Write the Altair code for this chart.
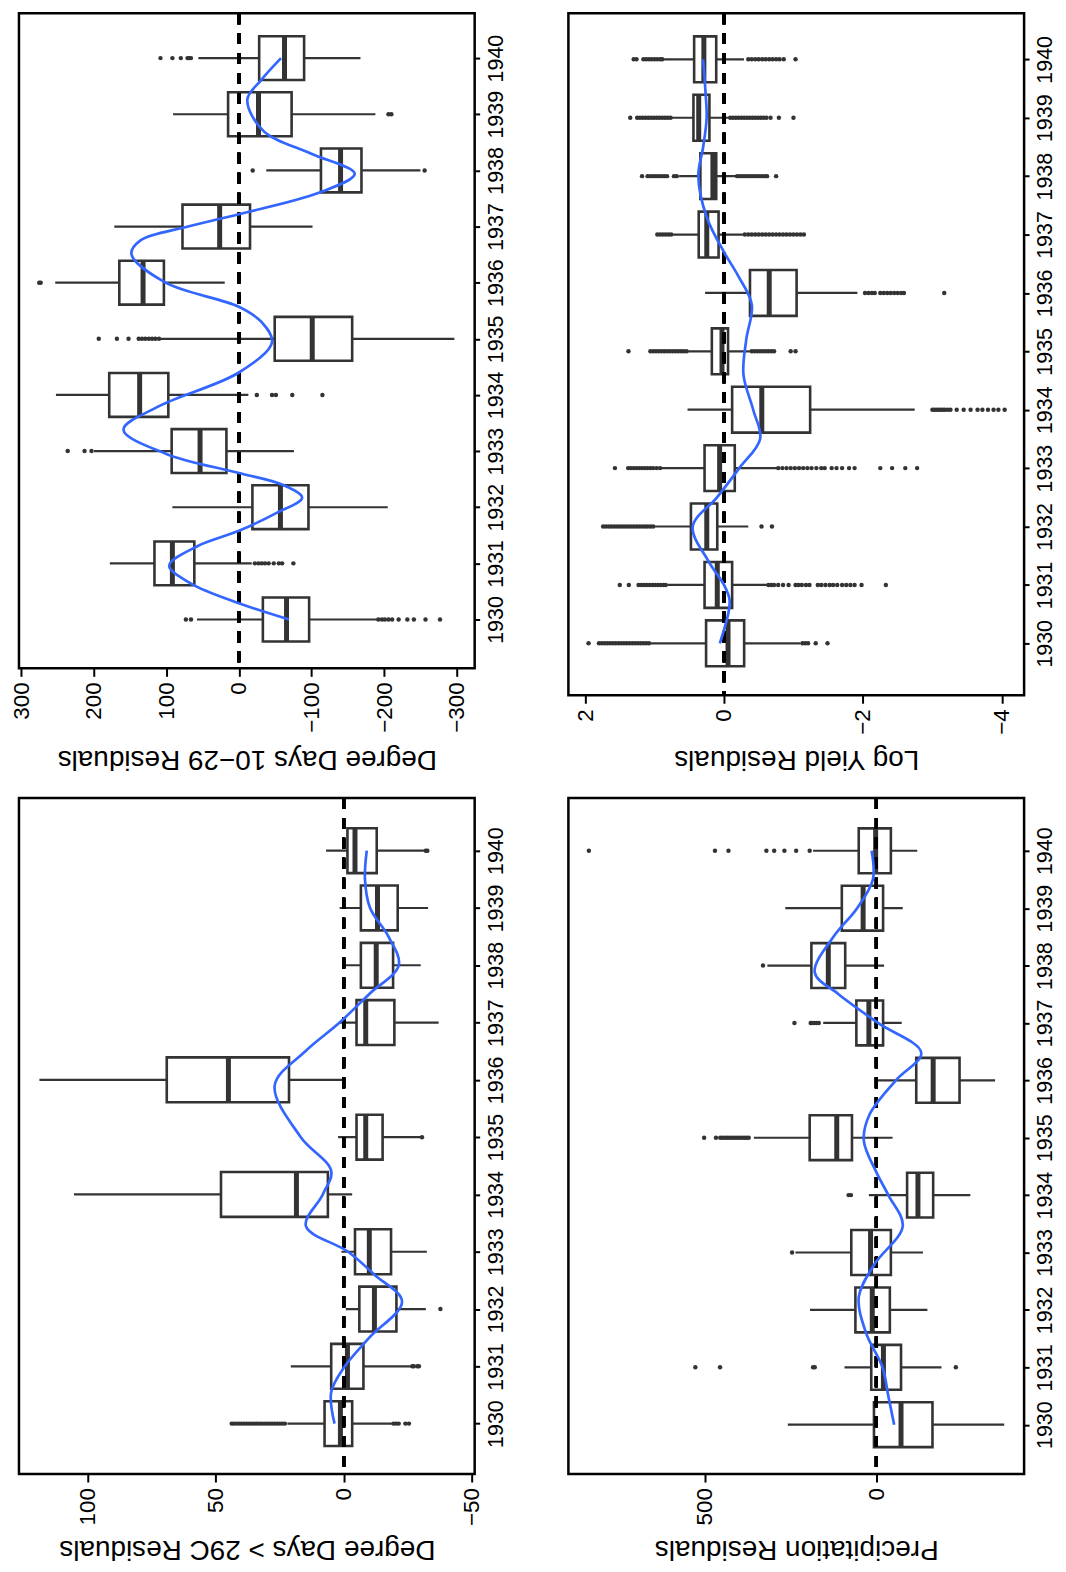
import altair as alt
import pandas as pd

YEARS = list(range(1930, 1941))
FONT = "Liberation Sans"
DARK = "#333333"
BLUE = "#3366FF"

# ---------------- Degree Days 10-29 Residuals (top left) ----------------
d1029_lo = [-96.7, 61.4, -95.8, 17.2, 97.2, -156, 103.3, -15.3, -168.8, -72.6, -89.8]
d1029_hi = [-33, 116.3, -18.6, 92.6, 178.6, -49.3, 164.7, 77.7, -113, 14.9, -27.9]
d1029_med = [-65.6, 91.6, -57.2, 53.5, 136.7, -101, 132, 26.5, -140, -27, -62.8]
d1029_wlo = [-190, -17.7, -205, -75.8, -13, -296.7, 19.5, -101.4, -250, -188, -167.4]
d1029_whi = [57.7, 177.7, 91.6, 199.5, 252, 108, 253, 171.6, -37.7, 90.7, 55.8]
d1029_out_year = ([1930] * 12 + [1931] * 9 + [1933] * 3 + [1934] * 5 + [1935] * 10
                  + [1936] * 2 + [1938] * 2 + [1939] * 2 + [1940] * 6)
d1029_out_val = ([73, 66, -192, -197, -201, -206, -211, -220, -232, -241, -257, -277]
                 + [-22, -27, -31.6, -36, -41, -48, -55, -59.5, -75]
                 + [235.8, 212.6, 203]
                 + [-24.7, -45.6, -51, -73.5, -115]
                 + [193, 168, 152, 138, 133.5, 129, 124, 119.5, 115, 110]
                 + [275, 273]
                 + [-19, -255.8]
                 + [-206, -210]
                 + [108, 91.6, 80, 70.7, 68.4, 66])
d1029_curve_year = [1930.0, 1930.29, 1930.64, 1930.96, 1931.3, 1931.58, 1931.9, 1932.17, 1932.4,
                    1932.61, 1932.95, 1933.38, 1933.8, 1934.4, 1934.94, 1935.3, 1935.57, 1936.0,
                    1936.51, 1936.75, 1937.0, 1937.22, 1937.6, 1937.94, 1938.3, 1938.7, 1939.26,
                    1939.6, 1940.0]
d1029_curve_val = [-69, 0, 66, 96, 58, 0, -52, -87, -60, 0, 100, 159, 110, 0, -45.6, -31, 0, 101,
                   148, 136, 70, 0, -110, -159.5, -99, -34, -11.6, -30, -58]

# ---------------- Log Yield Residuals (top right) ----------------
ly_lo = [-0.29, -0.117, 0.097, -0.155, -1.24, -0.058, -1.045, 0.078, 0.112, 0.21, 0.112]
ly_hi = [0.258, 0.28, 0.476, 0.28, -0.117, 0.175, -0.374, 0.364, 0.34, 0.44, 0.43]
ly_med = [-0.058, 0.097, 0.248, 0.063, -0.544, 0.029, -0.651, 0.248, 0.16, 0.364, 0.29]
ly_wlo = [-1.10, -0.617, -0.35, -0.76, -2.745, -0.374, -1.92, -0.277, -0.18, -0.08, -0.287]
ly_whi = [1.06, 0.816, 1.01, 0.91, 0.525, 0.525, 0.272, 0.74, 0.646, 0.77, 0.89]
ly_out = {
    1930: [1.95, 1.80, 1.76, 1.72, 1.68, 1.64, 1.60, 1.56, 1.52, 1.48, 1.44, 1.40, 1.36, 1.32,
           1.28, 1.24, 1.20, 1.16, 1.12, 1.08, -1.13, -1.17, -1.21, -1.32, -1.49],
    1931: [1.50, 1.37, 1.23, 1.19, 1.15, 1.11, 1.07, 1.03, 0.99, 0.95, 0.91, 0.87, 0.84,
           -0.64, -0.68, -0.72, -0.78, -0.85, -0.93, -1.03, -1.07, -1.12, -1.18, -1.23, -1.35,
           -1.40, -1.46, -1.52, -1.57, -1.63, -1.70, -1.76, -1.82, -1.88, -1.98, -2.33],
    1932: [1.74, 1.70, 1.66, 1.62, 1.58, 1.54, 1.50, 1.46, 1.42, 1.38, 1.34, 1.30, 1.26, 1.22,
           1.18, 1.14, 1.10, 1.06, 1.02, -0.54, -0.69],
    1933: [1.57, 1.38, 1.34, 1.30, 1.26, 1.22, 1.18, 1.14, 1.10, 1.06, 1.02, 0.97, 0.92,
           -0.78, -0.84, -0.90, -0.96, -1.02, -1.08, -1.14, -1.20, -1.26, -1.33, -1.40, -1.45,
           -1.55, -1.62, -1.70, -1.80, -1.88, -2.25, -2.42, -2.61, -2.78],
    1934: [-3.00, -3.03, -3.06, -3.09, -3.12, -3.15, -3.18, -3.22, -3.26, -3.35, -3.45, -3.55,
           -3.65, -3.72, -3.80, -3.88, -3.95, -4.04],
    1935: [1.375, 1.06, 1.02, 0.98, 0.94, 0.90, 0.86, 0.82, 0.78, 0.74, 0.70, 0.66, 0.62, 0.58,
           0.54, -0.40, -0.44, -0.48, -0.52, -0.56, -0.60, -0.64, -0.68, -0.72, -0.96, -1.03],
    1936: [-2.03, -2.08, -2.13, -2.17, -2.25, -2.30, -2.35, -2.40, -2.45, -2.50, -2.55, -2.59,
           -3.17],
    1937: [0.96, 0.92, 0.88, 0.84, 0.80, 0.76, -0.30, -0.35, -0.40, -0.45, -0.50, -0.55, -0.60,
           -0.65, -0.70, -0.75, -0.80, -0.85, -0.90, -0.95, -1.00, -1.05, -1.10, -1.15],
    1938: [1.18, 1.10, 1.06, 1.02, 0.98, 0.94, 0.90, 0.86, 0.82, 0.72, 0.68, -0.19, -0.23,
           -0.27, -0.31, -0.35, -0.39, -0.43, -0.47, -0.51, -0.55, -0.59, -0.62, -0.75],
    1939: [1.35, 1.25, 1.21, 1.17, 1.13, 1.09, 1.05, 1.01, 0.97, 0.93, 0.89, 0.85, 0.81, 0.77,
           -0.09, -0.13, -0.17, -0.21, -0.25, -0.29, -0.33, -0.37, -0.41, -0.45, -0.49, -0.53,
           -0.57, -0.61, -0.67, -0.79, -1.00],
    1940: [1.30, 1.26, 1.16, 1.12, 1.08, 1.04, 1.00, 0.96, 0.92, 0.89, -0.35, -0.40, -0.45,
           -0.50, -0.55, -0.60, -0.65, -0.70, -0.75, -0.80, -0.86, -1.03],
}
ly_curve_year = [1930.0, 1930.5, 1930.75, 1931.0, 1931.4, 1932.0, 1932.5, 1933.0, 1933.5,
                 1934.0, 1934.6, 1935.2, 1935.8, 1936.3, 1936.7, 1937.3, 1938.0, 1938.5,
                 1939.0, 1939.5, 1940.0]
ly_curve_val = [0.06, -0.06, -0.08, 0.0, 0.22, 0.45, 0.10, -0.22, -0.52, -0.42, -0.28, -0.32,
                -0.40, -0.20, 0.0, 0.25, 0.37, 0.30, 0.25, 0.27, 0.30]

# ---------------- Degree Days > 29C Residuals (bottom left) ----------------
d29_lo = [-3.3, -7.7, -20.6, -18.5, 6.2, -15.2, 21.4, -19.8, -19.3, -21.1, -12.9]
d29_hi = [7.5, 4.9, -6.1, -4.4, 48, -5, 69.2, -5, -6.7, -6.7, -1.45]
d29_med = [1.3, -1.45, -12, -10, 18.5, -8.6, 45.1, -8.6, -12.7, -13.2, -4.4]
d29_wlo = [-18.9, -26.2, -32.1, -32.5, -3.3, -30.1, 0, -37.1, -30.1, -33, -31.4]
d29_whi = [22, 20.7, -0.8, 0.9, 105.5, 2.2, 119, 1.6, 0, 1.6, 6.9]
d29_out = {
    1930: [43.8, 43.0, 42.0, 41.0, 40.0, 39.0, 38.0, 37.0, 36.0, 35.0, 34.0, 33.0, 32.0, 31.0,
           30.0, 29.0, 28.0, 27.0, 26.0, 25.0, 24.0, 23.0, -19.5, -20.5, -21.5, -24.1, -25.5],
    1931: [-26.8, -27.4, -28.8, -29.4],
    1932: [-37.8],
    1935: [-30.6],
    1940: [-32.1, -32.7],
}
d29_curve_year = [1930.0, 1930.55, 1931.0, 1931.5, 1932.13, 1932.6, 1933.0, 1933.45, 1934.0,
                  1934.41, 1935.0, 1935.9, 1936.5, 1937.0, 1937.5, 1938.0, 1938.5, 1939.0,
                  1939.5, 1940.0]
d29_curve_val = [3.6, 4.9, -0.4, -10, -22.8, -12, -1.7, 14.8, 8.2, 4.9, 16.8, 27, 15, 1.6, -10,
                 -21.5, -17.5, -10.3, -8.3, -9.0]

# ---------------- Precipitation Residuals (bottom right) ----------------
pr_lo = [-163.7, -72, -39.4, -42.4, -165.7, 71, -242.6, -19.7, 90.7, -19.7, -42.4]
pr_hi = [6.9, 14.8, 61, 73, -89.7, 194.3, -116.4, 58.2, 189.3, 100.6, 51.3]
pr_med = [-72, -20.7, 11.8, 16.8, -121.3, 115.4, -165.7, 21.7, 140, 38.5, 2]
pr_wlo = [-372.8, -190, -148.9, -136, -274, -47.3, -346.2, -74, -22.7, -77, -119.3]
pr_whi = [258, 92.7, 193.3, 235.7, 21.7, 357, 3.9, 154.8, 317.6, 265.3, 184.4]
pr_out = {
    1931: [527.6, 455.6, 184.4, 179.5, -231.8],
    1933: [245.6],
    1934: [80.9, 74],
    1935: [502, 467.5, 455, 448, 441, 434, 427, 420, 413, 406, 399, 392, 385, 378, 372],
    1937: [238.7, 191.3, 187.4, 181.5, 174.6, 167.7],
    1938: [330.4],
    1940: [838, 470.4, 431, 320.5, 297.8, 268, 233.7, 194.3],
}
pr_curve_year = [1930.0, 1930.5, 1931.0, 1931.6, 1932.23, 1932.8, 1933.46, 1934.0, 1934.4,
                 1934.95, 1935.4, 1936.0, 1936.48, 1937.0, 1937.5, 1937.88, 1938.5, 1939.0,
                 1939.5, 1940.0]
pr_curve_val = [-52, -35, -18, 30, 51, 5, -77, -35, 0, 36.5, 20, -57, -131, -5, 110, 179.5,
                125, 56, 10, 13.8]


def flat(d):
    ys, vs = [], []
    for y, vals in d.items():
        ys += [y] * len(vals)
        vs += vals
    return ys, vs


def panel(title, lo, hi, med, wlo, whi, out_year, out_val, cyear, cval,
          xdom, ydom, w, h, ticks, box_size, title_y):
    boxes = pd.DataFrame(dict(year=YEARS, lo=lo, hi=hi, med=med, wlo=wlo, whi=whi))
    outs = pd.DataFrame(dict(year=out_year, value=out_val))
    curve = pd.DataFrame(dict(year=cyear, value=cval))

    xs = alt.Scale(domain=xdom, reverse=True, nice=False, zero=False, padding=0)
    ys = alt.Scale(domain=ydom, nice=False, zero=False, padding=0)
    xa = alt.Axis(values=ticks, title=title, orient="bottom", labelAngle=270,
                  labelAlign="right", labelBaseline="middle", labelFontSize=22.5,
                  labelPadding=5.5, tickSize=8, tickWidth=2, labelFlush=False,
                  labelOverlap=False, labelBound=False, titleAngle=180,
                  titleBaseline="alphabetic", titleAlign="center", titleY=title_y,
                  titleFontSize=28)
    ya = alt.Axis(values=YEARS, orient="right", format="d", title=None, labelAngle=270,
                  labelAlign="center", labelBaseline="top", labelFontSize=21.5,
                  labelPadding=5.5, tickSize=5, tickWidth=2, labelFlush=False,
                  labelOverlap=False, labelBound=False)

    def X(f):
        return alt.X(f, type="quantitative", scale=xs, axis=xa)

    def Y(f):
        return alt.Y(f, type="quantitative", scale=ys, axis=ya)

    whisk = alt.Chart(boxes).mark_rule(color=DARK, strokeWidth=2.2).encode(
        x=X("wlo"), x2="whi", y=Y("year"))
    box = alt.Chart(boxes).mark_bar(orient="horizontal", size=box_size, fill="white",
                                    stroke=DARK, strokeWidth=2.6).encode(
        x=X("lo"), x2="hi", y=Y("year"))
    medt = alt.Chart(boxes).mark_tick(orient="vertical", size=box_size, thickness=5,
                                      color=DARK, opacity=1).encode(
        x=X("med"), y=Y("year"))
    pts = alt.Chart(outs).mark_circle(size=20, color=DARK, opacity=1).encode(
        x=X("value"), y=Y("year"))
    zero = alt.Chart(boxes).mark_rule(color="black", strokeWidth=3,
                                      strokeDash=[11, 9]).encode(
        x=alt.X(datum=0, type="quantitative", scale=xs, axis=xa))
    line = alt.Chart(curve).mark_line(color=BLUE, strokeWidth=2.7,
                                      interpolate="catmull-rom").encode(
        x=X("value"), y=Y("year"), order="year:Q")
    return alt.layer(whisk, box, medt, pts, zero, line).properties(width=w, height=h)


ly_oy, ly_ov = flat(ly_out)
d29_oy, d29_ov = flat(d29_out)
pr_oy, pr_ov = flat(pr_out)

W = 457
tl = panel("Degree Days 10\u221229 Residuals", d1029_lo, d1029_hi, d1029_med, d1029_wlo,
           d1029_whi, d1029_out_year, d1029_out_val, d1029_curve_year, d1029_curve_val,
           [-324.7, 302.9], [1929.13, 1940.80], W, 657,
           [300, 200, 100, 0, -100, -200, -300], 44, 82.5)
tr = panel("Log Yield Residuals", ly_lo, ly_hi, ly_med, ly_wlo, ly_whi, ly_oy, ly_ov,
           ly_curve_year, ly_curve_val, [-4.32, 2.24], [1929.11, 1940.79], W, 684,
           [2, 0, -2, -4], 46, 55.5)
bl = panel("Degree Days > 29C Residuals", d29_lo, d29_hi, d29_med, d29_wlo, d29_whi,
           d29_oy, d29_ov, d29_curve_year, d29_curve_val, [-51.2, 127.0],
           [1929.12, 1940.92], W, 678, [100, 50, 0, -50], 45, 67)
br = panel("Precipitation Residuals", pr_lo, pr_hi, pr_med, pr_wlo, pr_whi, pr_oy, pr_ov,
           pr_curve_year, pr_curve_val, [-430.8, 897.7], [1929.14, 1940.92], W, 678,
           [500, 0], 45, 67)

chart = alt.concat(tl, tr, bl, br, columns=2, spacing={"row": 103, "column": 94},
                   bounds="flush").properties(
    padding={"left": 0, "top": 0, "right": 0, "bottom": 0},
    background="white",
).configure_view(
    stroke="black", strokeWidth=2.5
).configure_axis(
    labelFont=FONT, titleFont=FONT, labelColor="black", titleColor="black",
    tickColor="black", grid=False, domain=False, titleFontWeight="normal"
)

chart.save("out.html", embed_options={"renderer": "svg", "actions": False})
